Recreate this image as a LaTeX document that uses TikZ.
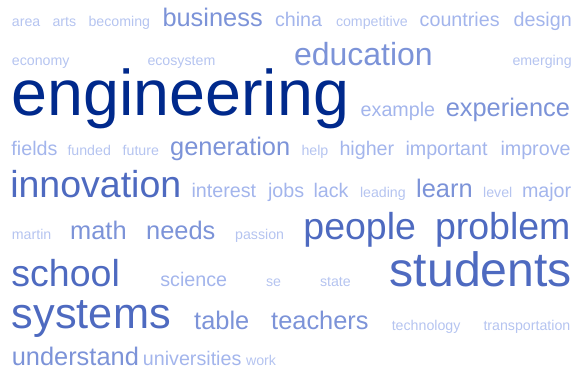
\documentclass[tikz,border=0pt]{standalone}
\usepackage{fontspec}
\setmainfont{Liberation Sans}
\definecolor{cA}{RGB}{0,41,140}
\definecolor{cB}{RGB}{78,106,192}
\definecolor{cC}{RGB}{124,147,216}
\definecolor{cD}{RGB}{163,181,236}
\definecolor{cE}{RGB}{181,196,240}

\begin{document}
\begin{tikzpicture}[x=1pt,y=-1pt,
  word/.style={anchor=base west, inner sep=0pt, outer sep=0pt},
  wHuge/.style={word, text=cA, font=\fontsize{64.6}{65}\selectfont},
  wBig/.style={word, text=cB, font=\fontsize{#1}{#1}\selectfont},
  wBig/.default=37.5,
  wMid/.style={word, text=cC, font=\fontsize{#1}{#1}\selectfont},
  wMid/.default=25.4,
  wSmall/.style={word, text=cD, font=\fontsize{19.7}{20}\selectfont},
  wTiny/.style={word, text=cE, font=\fontsize{14.2}{14}\selectfont}]
\useasboundingbox (0,0) rectangle (574,369);
% first rows
\node (area) at (11.9,27) [wTiny] {area};
\node (arts) at (52.5,27) [wTiny] {arts};
\node (becoming) at (88.5,27) [wTiny] {becoming};
\node (business) at (162.5,27) [wMid] {business};
\node (china) at (275,27) [wSmall] {china};
\node (competitive) at (336,27) [wTiny] {competitive};
\node (countries) at (419.7,27) [wSmall] {countries};
\node (design) at (513.7,27) [wSmall] {design};
\node (economy) at (11.9,66) [wTiny] {economy};
\node (ecosystem) at (147.5,66) [wTiny] {ecosystem};
\node (education) at (294,66) [wMid=32] {education};
\node (emerging) at (512.5,66) [wTiny] {emerging};
\node (engineering) at (11.5,116) [wHuge] {engineering};
\node (example) at (360.7,117) [wSmall] {example};
\node (experience) at (445.8,117) [wMid] {experience};
% middle rows
\node (fields) at (11.5,156) [wSmall] {fields};
\node (funded) at (67.5,156) [wTiny] {funded};
\node (future) at (122.7,156) [wTiny] {future};
\node (generation) at (170.2,156) [wMid] {generation};
\node (help) at (301.5,156) [wTiny] {help};
\node (higher) at (339.5,156) [wSmall] {higher};
\node (important) at (405.5,156) [wSmall] {important};
\node (improve) at (500.5,156) [wSmall] {improve};
\node (innovation) at (10.3,197) [wBig] {innovation};
\node (interest) at (191.5,197) [wSmall] {interest};
\node (jobs) at (268,197) [wSmall] {jobs};
\node (lack) at (313.5,197) [wSmall] {lack};
\node (leading) at (360,197) [wTiny] {leading};
\node (learn) at (416.2,197) [wMid] {learn};
\node (level) at (483.2,197) [wTiny] {level};
\node (major) at (522,197) [wSmall] {major};
\node (martin) at (11.9,239) [wTiny] {martin};
\node (math) at (70.2,239) [wMid] {math};
\node (needs) at (146.2,239) [wMid] {needs};
\node (passion) at (235.2,239) [wTiny] {passion};
\node (people) at (303.4,240) [wBig] {people};
\node (problem) at (435,240) [wBig] {problem};
% lower rows
\node (school) at (11.5,286) [wBig] {school};
\node (science) at (160.3,286) [wSmall] {science};
\node (se) at (266,286) [wTiny] {se};
\node (state) at (320,286) [wTiny] {state};
\node (students) at (389.8,286) [wBig=48.2] {students};
\node (systems) at (12,328) [wBig=43.3] {systems};
\node (table) at (194.2,329) [wMid] {table};
\node (teachers) at (271.2,329) [wMid] {teachers};
\node (technology) at (391.8,330) [wTiny] {technology};
\node (transportation) at (483.5,330) [wTiny] {transportation};
\node (understand) at (11.8,365) [wMid] {understand};
\node (universities) at (142.9,365) [wSmall] {universities};
\node (work) at (246,365) [wTiny] {work};
\end{tikzpicture}
\end{document}
